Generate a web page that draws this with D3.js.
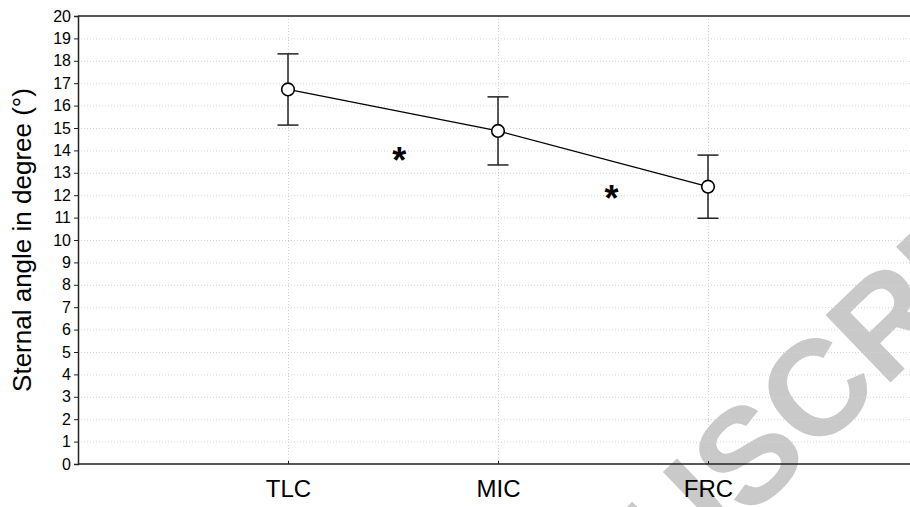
<!DOCTYPE html>
<html>
<head>
<meta charset="utf-8">
<script src="https://cdn.jsdelivr.net/npm/d3@7"></script>
<style>
  html, body { margin: 0; padding: 0; background: #fff; }
  svg { display: block; font-family: "Liberation Sans", Arial, sans-serif; }
</style>
</head>
<body>
<svg id="chart" width="910" height="507"></svg>
<script>
// Breathing levels and sternal angle (mean ± error)
const categories = ["TLC", "MIC", "FRC"];
const means = [16.72, 14.87, 12.38];
const errors = [1.59, 1.52, 1.41];

// Significance markers placed between neighbouring levels
const sigPos = [1.53, 2.54];
const sigVal = [13.9, 12.2];

const yTicks = d3.range(0, 21, 1);
const yLabel = "Sternal angle in degree (°)";

const svg = d3.select("#chart");
const W = 910, H = 507;

const x = d3.scaleLinear().domain([0, 4]).range([78, 918]);
const y = d3.scaleLinear().domain([0, 20]).range([464, 16]);

// Diagonal watermark in the background
const wm = svg.append("g")
  .attr("transform", "translate(748,520) rotate(-44)")
  .attr("fill", "#c9c9c9")
  .style("font-weight", "bold")
  .style("font-size", "136px");
wm.append("text").attr("x", 0).attr("text-anchor", "end").text("ACCEPTED MANU");
wm.append("text").attr("x", 0).attr("text-anchor", "start").text("SCRIPT");

// Dotted grid
const grid = svg.append("g").attr("stroke", "#d4d4d4").attr("stroke-width", 1)
  .attr("stroke-dasharray", "1,2");
grid.selectAll("line.h").data(yTicks.filter(t => t > 0 && t < 20)).join("line")
  .attr("class", "h")
  .attr("x1", x(0)).attr("x2", W)
  .attr("y1", d => y(d) + 0.5).attr("y2", d => y(d) + 0.5);
grid.selectAll("line.v").data(categories).join("line")
  .attr("class", "v")
  .attr("x1", (d, i) => x(i + 1) + 0.5).attr("x2", (d, i) => x(i + 1) + 0.5)
  .attr("y1", y(20)).attr("y2", y(0));

// Y axis
const yAxis = d3.axisLeft(y).tickValues(yTicks).tickSize(4).tickPadding(3).tickFormat(d3.format("d"));
const gy = svg.append("g").attr("transform", `translate(${x(0)},0)`).call(yAxis);
gy.select(".domain").attr("stroke", "#222").attr("stroke-width", 1.5);
gy.selectAll(".tick line").attr("stroke", "#222");
gy.selectAll(".tick text").attr("fill", "#000").style("font-size", "16px")
  .style("font-family", "'Liberation Sans', Arial, sans-serif");

// X axis (inward ticks at each level)
const xAxis = d3.axisBottom(x).tickValues([1, 2, 3]).tickSize(-3).tickPadding(16)
  .tickFormat(d => categories[d - 1]);
const gx = svg.append("g").attr("transform", `translate(0,${y(0)})`).call(xAxis);
gx.select(".domain").remove();
gx.append("line").attr("x1", x(0)).attr("x2", W).attr("y1", 0).attr("y2", 0)
  .attr("stroke", "#222").attr("stroke-width", 1.5);
gx.selectAll(".tick line").attr("stroke", "#222");
gx.selectAll(".tick text").attr("fill", "#000").style("font-size", "24px")
  .style("font-family", "'Liberation Sans', Arial, sans-serif");

// Top frame line
svg.append("line").attr("x1", x(0)).attr("x2", W).attr("y1", y(20)).attr("y2", y(20))
  .attr("stroke", "#222").attr("stroke-width", 1.5);

// Y label
svg.append("text")
  .attr("transform", `translate(31,${(y(0) + y(20)) / 2}) rotate(-90)`)
  .attr("text-anchor", "middle")
  .style("font-size", "26px")
  .attr("fill", "#000")
  .text(yLabel);

const pts = categories.map((c, i) => ({ c, i: i + 1, m: means[i], e: errors[i] }));

// Connecting line
svg.append("path").datum(pts)
  .attr("fill", "none").attr("stroke", "#000").attr("stroke-width", 1.3)
  .attr("d", d3.line().x(d => x(d.i)).y(d => y(d.m)));

// Error bars
const eb = svg.append("g").attr("stroke", "#222").attr("stroke-width", 1.5);
eb.selectAll("line.stem").data(pts).join("line").attr("class", "stem")
  .attr("x1", d => x(d.i)).attr("x2", d => x(d.i))
  .attr("y1", d => y(d.m + d.e)).attr("y2", d => y(d.m - d.e));
eb.selectAll("line.capT").data(pts).join("line").attr("class", "capT")
  .attr("x1", d => x(d.i) - 10.5).attr("x2", d => x(d.i) + 10.5)
  .attr("y1", d => y(d.m + d.e)).attr("y2", d => y(d.m + d.e));
eb.selectAll("line.capB").data(pts).join("line").attr("class", "capB")
  .attr("x1", d => x(d.i) - 10.5).attr("x2", d => x(d.i) + 10.5)
  .attr("y1", d => y(d.m - d.e)).attr("y2", d => y(d.m - d.e));

// Mean markers
svg.selectAll("circle.pt").data(pts).join("circle").attr("class", "pt")
  .attr("cx", d => x(d.i)).attr("cy", d => y(d.m)).attr("r", 6.3)
  .attr("fill", "#fff").attr("stroke", "#000").attr("stroke-width", 1.6);

// Significance asterisks
const starSize = 36;
svg.selectAll("text.sig").data(sigPos).join("text").attr("class", "sig")
  .attr("x", d => x(d)).attr("y", (d, i) => y(sigVal[i]) + starSize * 0.57)
  .attr("text-anchor", "middle")
  .style("font-size", starSize + "px").style("font-weight", "bold")
  .attr("fill", "#000")
  .text("*");
</script>
</body>
</html>
